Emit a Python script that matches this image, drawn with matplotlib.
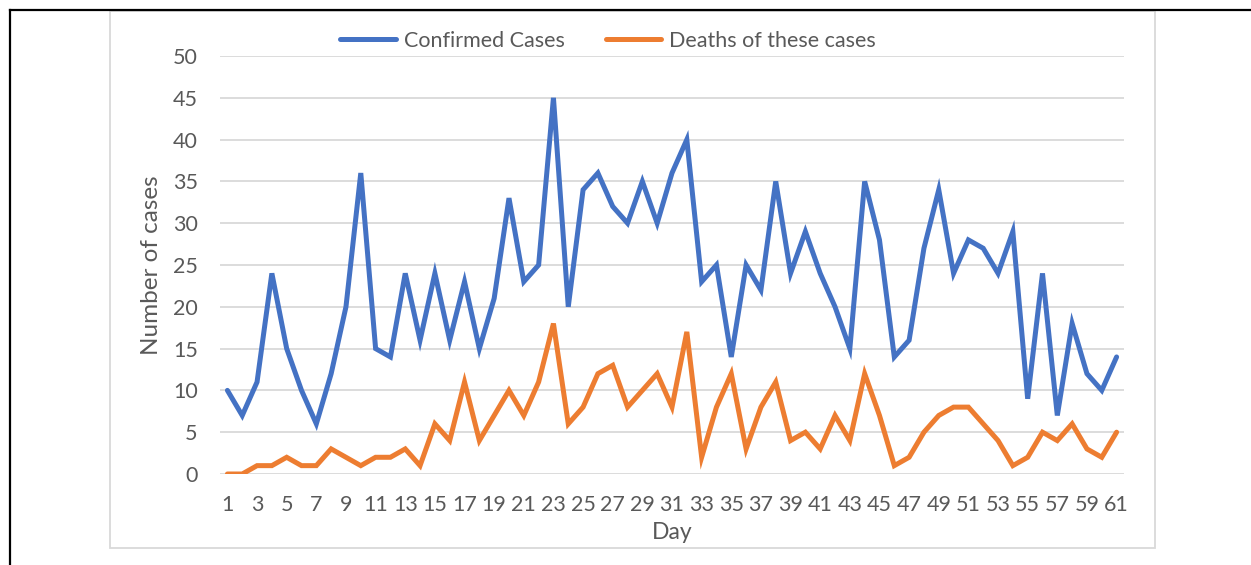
import matplotlib.pyplot as plt
from matplotlib.lines import Line2D
from matplotlib.patches import Rectangle

days = list(range(1, 62))
confirmed = [10, 7, 11, 24, 15, 10, 6, 12, 20, 36,
             15, 14, 24, 16, 24, 16, 23, 15, 21, 33,
             23, 25, 45, 20, 34, 36, 32, 30, 35, 30,
             36, 40, 23, 25, 14, 25, 22, 35, 24, 29,
             24, 20, 15, 35, 28, 14, 16, 27, 34, 24,
             28, 27, 24, 29, 9, 24, 7, 18, 12, 10, 14]
deaths = [0, 0, 1, 1, 2, 1, 1, 3, 2, 1,
          2, 2, 3, 1, 6, 4, 11, 4, 7, 10,
          7, 11, 18, 6, 8, 12, 13, 8, 10, 12,
          8, 17, 2, 8, 12, 3, 8, 11, 4, 5,
          3, 7, 4, 12, 7, 1, 2, 5, 7, 8,
          8, 6, 4, 1, 2, 5, 4, 6, 3, 2, 5]

plt.rcParams['font.family'] = ['Lato', 'DejaVu Sans']
txt = '#595959'

W, H = 1251, 565
fig = plt.figure(figsize=(W / 100, H / 100), dpi=100)
ax = fig.add_axes([220 / W, 1 - 474 / H, (1124 - 220) / W, (474 - 56) / H])

ax.plot(days, confirmed, color='#4472C4', lw=3.6, solid_joinstyle='miter',
        solid_capstyle='round', label='Confirmed Cases')
ax.plot(days, deaths, color='#ED7D31', lw=3.6, solid_joinstyle='miter',
        solid_capstyle='round', label='Deaths of these cases')

ax.set_xlim(0.5, 61.5)
ax.set_ylim(0, 50)
ax.set_yticks(range(0, 51, 5))
ax.set_xticks(days[::2])
ax.grid(axis='y', color='#D9D9D9', lw=1.3)
ax.set_axisbelow(True)
for s in ax.spines.values():
    s.set_visible(False)
ax.tick_params(length=0, labelsize=15.5, colors=txt)
ax.tick_params(axis='x', pad=15)
ax.tick_params(axis='y', pad=16)

ax.set_xlabel('Day', fontsize=16.5, color=txt, labelpad=5)
ax.set_ylabel('Number of cases', fontsize=17.5, color=txt, labelpad=8)

leg = ax.legend(loc='center', bbox_to_anchor=(608 / W, 1 - 41 / H),
                bbox_transform=fig.transFigure, ncol=2, frameon=False,
                fontsize=15.5, handlelength=2.6, handletextpad=0.35,
                columnspacing=1.9, borderpad=0)
for t in leg.get_texts():
    t.set_color(txt)

# chart frame and page borders
fig.patches.append(Rectangle((110 / W, 1 - 548 / H), (1155 - 110) / W, (548 - 10.5) / H,
                             transform=fig.transFigure, fill=False,
                             edgecolor='#D9D9D9', lw=1.3))
fig.lines.append(Line2D([9.5 / W, 1], [1 - 9.5 / H, 1 - 9.5 / H],
                        transform=fig.transFigure, color='black', lw=1.6))
fig.lines.append(Line2D([9.5 / W, 9.5 / W], [0, 1 - 9.5 / H],
                        transform=fig.transFigure, color='black', lw=1.6))

fig.savefig('out.png', dpi=100)
